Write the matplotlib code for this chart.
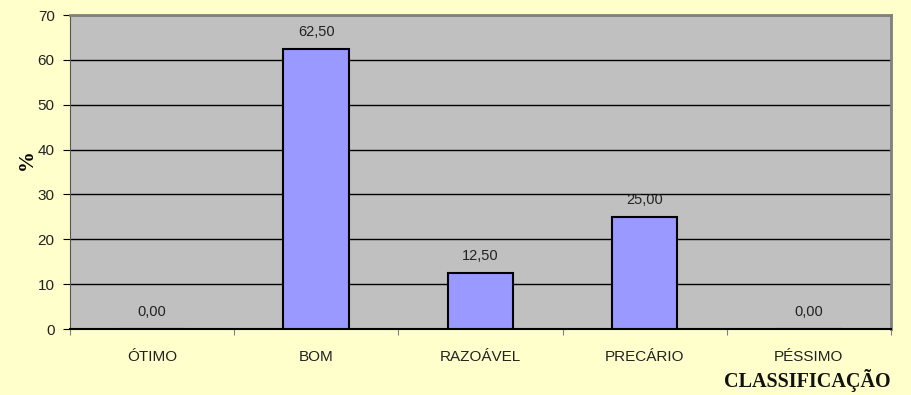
import numpy as np
import matplotlib.pyplot as plt

categorias = ["ÓTIMO", "BOM", "RAZOÁVEL", "PRECÁRIO", "PÉSSIMO"]
percentuais = [0.00, 62.50, 12.50, 25.00, 0.00]

fig = plt.figure(figsize=(9.11, 3.95), dpi=100, facecolor="#FFFFCC")
ax = fig.add_axes([0.0768, 0.167, 0.9012, 0.795])
ax.set_facecolor("#C0C0C0")

x = np.arange(len(categorias))
ax.bar(x, percentuais, width=0.4, color="#9999FF", edgecolor="black",
       linewidth=1.5, zorder=3)

for xi, v in zip(x, percentuais):
    ax.text(xi, v + 2.2, f"{v:.2f}".replace(".", ","), ha="center",
            va="bottom", fontsize=10.5, family="Liberation Sans", color="#222222")

ax.set_xlim(-0.5, len(categorias) - 0.5)
ax.set_ylim(0, 70)
ax.set_yticks(range(0, 71, 10))
ax.yaxis.grid(True, color="black", linewidth=1, zorder=1)

# ticks nas divisas das categorias, rótulos no centro
ax.set_xticks(np.arange(-0.5, len(categorias)), minor=False)
ax.set_xticklabels([])
ax.set_xticks(x, minor=True)
ax.set_xticklabels(categorias, minor=True)
ax.tick_params(axis="x", which="minor", length=0, pad=15)
ax.tick_params(axis="x", which="major", length=4, color="#808080")
ax.tick_params(axis="y", length=5, pad=6)
for lab in ax.get_xticklabels(minor=True) + ax.get_yticklabels():
    lab.set_family("Liberation Sans")
    lab.set_fontsize(11)
    lab.set_color("#222222")

ax.spines["top"].set_color("#808080")
ax.spines["right"].set_color("#808080")
ax.spines["top"].set_linewidth(2)
ax.spines["right"].set_linewidth(2)
ax.spines["left"].set_color("#555555")
ax.spines["bottom"].set_color("black")
ax.spines["bottom"].set_linewidth(1.5)

fig.text(0.03, 0.595, "%", rotation=90, ha="center", va="center",
         fontsize=15, fontweight="bold", family="Liberation Serif")
fig.text(0.978, 0.008, "CLASSIFICAÇÃO", ha="right", va="bottom",
         fontsize=14.5, fontweight="bold", family="Liberation Serif",
         color="#111111")

fig.savefig("out.png", dpi=100, facecolor=fig.get_facecolor())
